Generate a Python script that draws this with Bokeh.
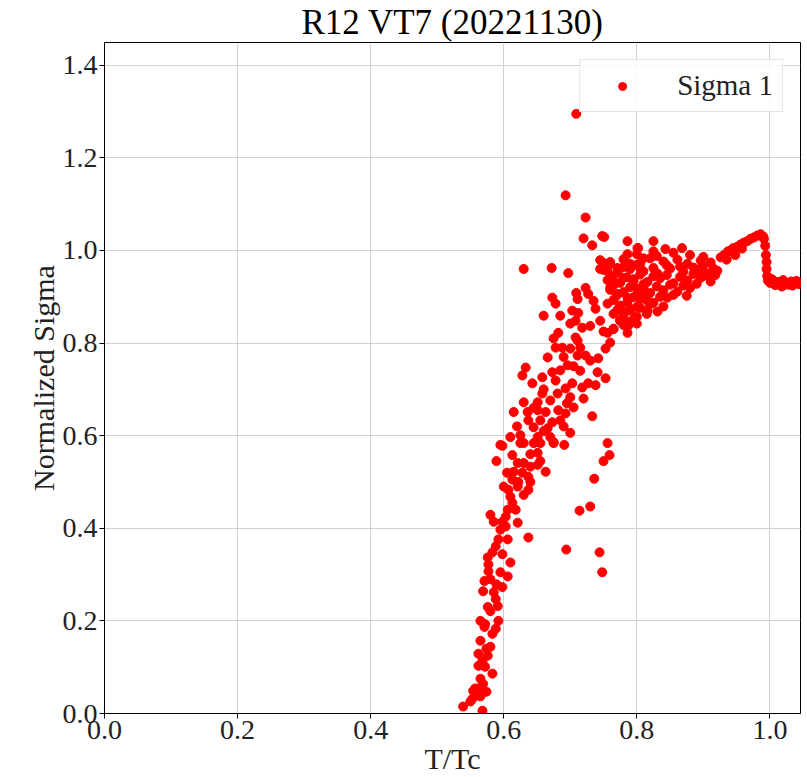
from bokeh.plotting import figure
from bokeh.models import (ColumnDataSource, Legend, LegendItem, FixedTicker,
                          Range1d, PrintfTickFormatter)
from bokeh.embed import file_html
from bokeh.resources import INLINE

# ---------------- data ----------------
tail_t = [0.539, 0.550, 0.554, 0.560, 0.565, 0.568, 0.569, 0.565, 0.583, 0.572,
          0.562, 0.568, 0.576, 0.565, 0.583, 0.588, 0.565, 0.592, 0.580, 0.591,
          0.569, 0.585, 0.580, 0.577, 0.595, 0.606, 0.610, 0.576, 0.583, 0.598,
          0.588, 0.592, 0.606, 0.637, 0.603, 0.580, 0.585, 0.598, 0.621, 0.603,
          0.606, 0.618, 0.613, 0.610, 0.630, 0.607, 0.637, 0.621, 0.613, 0.622,
          0.640, 0.615, 0.628, 0.637, 0.663, 0.621, 0.630, 0.640, 0.651, 0.589,
          0.613, 0.598, 0.625, 0.645, 0.651, 0.675, 0.691,
          0.557, 0.574, 0.572, 0.588, 0.577, 0.595, 0.553, 0.562, 0.574, 0.562,
          0.580, 0.571, 0.576, 0.589, 0.571, 0.598]
tail_s = [0.015, 0.026, 0.049, 0.039, 0.037, 0.006, 0.064, 0.075, 0.086, 0.101,
          0.103, 0.114, 0.125, 0.157, 0.172, 0.183, 0.200, 0.200, 0.221, 0.232,
          0.264, 0.262, 0.290, 0.307, 0.305, 0.296, 0.326, 0.337, 0.348, 0.344,
          0.361, 0.376, 0.376, 0.380, 0.404, 0.429, 0.414, 0.414, 0.412, 0.425,
          0.440, 0.440, 0.455, 0.468, 0.472, 0.483, 0.483, 0.490, 0.505, 0.500,
          0.500, 0.522, 0.520, 0.511, 0.522, 0.541, 0.541, 0.533, 0.537, 0.545,
          0.558, 0.578, 0.584, 0.584, 0.563, 0.584, 0.580,
          0.054, 0.140, 0.193, 0.247, 0.322, 0.397, 0.032, 0.054, 0.047, 0.129,
          0.144, 0.187, 0.230, 0.279, 0.286, 0.273]

mid_t = [0.709, 0.723, 0.727, 0.673, 0.678, 0.711, 0.735, 0.738, 0.660, 0.685,
         0.703, 0.712, 0.708, 0.700, 0.718, 0.730, 0.745, 0.756, 0.765, 0.682,
         0.675, 0.708, 0.711, 0.678, 0.688, 0.700, 0.715, 0.753, 0.760, 0.666,
         0.711, 0.723, 0.730, 0.742, 0.633, 0.673, 0.685, 0.696, 0.741, 0.753,
         0.628, 0.643, 0.658, 0.678, 0.703, 0.718, 0.727, 0.738, 0.693, 0.658,
         0.681, 0.700, 0.651, 0.670, 0.705, 0.630, 0.615, 0.636, 0.651, 0.663,
         0.682, 0.693, 0.637, 0.655, 0.673, 0.685, 0.645, 0.666, 0.700, 0.610,
         0.625, 0.651, 0.670, 0.595, 0.630, 0.655, 0.675,
         0.640, 0.655, 0.660, 0.690, 0.695, 0.715, 0.720, 0.705, 0.690, 0.660,
         0.645, 0.620, 0.605, 0.600]
mid_s = [0.908, 0.919, 0.906, 0.898, 0.885, 0.895, 0.891, 0.874, 0.859, 0.859,
         0.870, 0.865, 0.848, 0.842, 0.833, 0.837, 0.848, 0.822, 0.831, 0.822,
         0.810, 0.812, 0.805, 0.790, 0.790, 0.788, 0.790, 0.788, 0.801, 0.769,
         0.773, 0.773, 0.762, 0.767, 0.747, 0.737, 0.741, 0.752, 0.737, 0.724,
         0.730, 0.713, 0.726, 0.719, 0.713, 0.704, 0.713, 0.709, 0.702, 0.691,
         0.691, 0.683, 0.672, 0.676, 0.661, 0.672, 0.651, 0.651, 0.655, 0.651,
         0.655, 0.648, 0.633, 0.633, 0.629, 0.633, 0.618, 0.616, 0.606, 0.597,
         0.601, 0.597, 0.597, 0.580, 0.584, 0.584, 0.586,
         0.560, 0.545, 0.610, 0.620, 0.670, 0.740, 0.680, 0.750, 0.770, 0.700,
         0.660, 0.620, 0.520, 0.490]

upper_t = [0.672, 0.697, 0.630, 0.720, 0.733, 0.748, 0.751, 0.786, 0.750, 0.760,
           0.745, 0.756, 0.771, 0.786, 0.801, 0.810, 0.790, 0.805, 0.765, 0.780,
           0.795, 0.810, 0.760, 0.771, 0.786, 0.801, 0.816, 0.756, 0.775, 0.790,
           0.805, 0.765, 0.780, 0.795, 0.787, 0.775, 0.816]
upper_s = [0.962, 0.951, 0.960, 1.026, 1.011, 1.031, 1.029, 1.020, 0.973, 0.971,
           0.960, 0.956, 0.962, 0.992, 1.005, 0.983, 0.971, 0.962, 0.934, 0.941,
           0.934, 0.919, 0.919, 0.906, 0.898, 0.906, 0.891, 0.885, 0.876, 0.870,
           0.876, 0.863, 0.855, 0.848, 0.837, 0.848, 0.870]

band_t = [0.745, 0.760, 0.780, 0.805, 0.820, 0.840, 0.861, 0.876, 0.896, 0.911,
          0.750, 0.771, 0.790, 0.810, 0.831, 0.850, 0.870, 0.891, 0.906, 0.921,
          0.756, 0.775, 0.795, 0.816, 0.835, 0.855, 0.876, 0.896, 0.911,
          0.760, 0.780, 0.801, 0.820, 0.840, 0.861, 0.880,
          0.765, 0.786, 0.805, 0.825, 0.846,
          0.771, 0.780, 0.790, 0.831,
          0.775, 0.786, 0.795,
          0.750, 0.765, 0.786,
          0.800, 0.830, 0.855, 0.880, 0.900,
          0.755, 0.780, 0.800, 0.825, 0.845, 0.865, 0.885, 0.900, 0.915,
          0.760, 0.785, 0.805, 0.825, 0.845, 0.865, 0.885, 0.900, 0.918,
          0.765, 0.790, 0.810, 0.830, 0.850, 0.870, 0.890,
          0.770, 0.795, 0.815, 0.835, 0.855, 0.875,
          0.775, 0.800, 0.820, 0.840,
          0.780, 0.800, 0.815,
          0.780, 0.800]
band_s = [0.979, 0.975, 0.981, 0.972, 0.983, 0.976, 0.980, 0.971, 0.978, 0.974,
          0.958, 0.952, 0.960, 0.955, 0.950, 0.961, 0.954, 0.958, 0.949, 0.956,
          0.936, 0.930, 0.938, 0.932, 0.940, 0.929, 0.935, 0.941, 0.933,
          0.915, 0.910, 0.917, 0.908, 0.914, 0.911, 0.919,
          0.893, 0.888, 0.895, 0.887, 0.898,
          0.872, 0.866, 0.874, 0.868,
          0.849, 0.845, 0.851,
          0.825, 0.830, 0.822,
          0.992, 0.988, 0.995, 0.990, 0.986,
          0.967, 0.964, 0.969, 0.962, 0.968, 0.965, 0.963, 0.966, 0.961,
          0.946, 0.942, 0.948, 0.944, 0.947, 0.943, 0.949, 0.945, 0.947,
          0.925, 0.921, 0.927, 0.922, 0.926, 0.924, 0.928,
          0.903, 0.899, 0.905, 0.900, 0.904, 0.902,
          0.881, 0.878, 0.884, 0.879,
          0.861, 0.857, 0.863,
          0.839, 0.842]

peak_t = [0.926, 0.931, 0.937, 0.941, 0.945, 0.951, 0.956, 0.961, 0.966, 0.971,
          0.976, 0.981, 0.986, 0.990, 0.935, 0.948, 0.958,
          0.991, 0.993, 0.994, 0.995, 0.995, 0.996, 0.997]
peak_s = [0.985, 0.990, 0.998, 1.000, 1.005, 1.008, 1.013, 1.017, 1.020, 1.025,
          1.028, 1.032, 1.035, 1.030, 0.980, 0.990, 1.004,
          1.025, 1.010, 0.990, 0.975, 0.960, 0.945, 0.935]

plat_t = [1.000, 1.003, 1.005, 1.008, 1.012, 1.016, 1.018, 1.020, 1.024, 1.028,
          1.032, 1.034, 1.036, 1.040, 1.044, 1.047]
plat_s = [0.930, 0.938, 0.935, 0.925, 0.932, 0.928, 0.922, 0.936, 0.930, 0.926,
          0.933, 0.924, 0.929, 0.934, 0.927, 0.930]

out_t = [0.709, 0.693, 0.723, 0.843, 0.825, 0.868, 0.802, 0.825, 0.756, 0.759,
         0.750, 0.736, 0.730, 0.714, 0.694, 0.744, 0.748, 0.733]
out_s = [1.295, 1.119, 1.071, 1.003, 1.020, 1.005, 1.005, 0.998, 0.584, 0.558,
         0.545, 0.507, 0.447, 0.438, 0.354, 0.348, 0.305, 0.642]

x_ticks = [0.0, 0.2, 0.4, 0.6, 0.8, 1.0]
y_ticks = [0.0, 0.2, 0.4, 0.6, 0.8, 1.0, 1.2, 1.4]

T_ALL = tail_t + mid_t + upper_t + band_t + peak_t + plat_t + out_t
S_ALL = tail_s + mid_s + upper_s + band_s + peak_s + plat_s + out_s
src = ColumnDataSource(data=dict(t=T_ALL, s=S_ALL))

FONT = "Liberation Serif"

p = figure(width=807, height=777,
           x_range=Range1d(0, 1.046), y_range=Range1d(0, 1.449),
           output_backend="svg", toolbar_location=None,
           title="R12 VT7 (20221130)",
           min_border_left=104, min_border_right=7,
           min_border_top=40, min_border_bottom=62,
           background_fill_color="white", border_fill_color="white")

p.title.text_font = FONT
p.title.text_font_size = "35px"
p.title.text_font_style = "normal"
p.title.text_color = "black"
p.title.align = "center"
p.title.standoff = 1

r = p.scatter(x="t", y="s", source=src, size=9, fill_color="red",
              line_color="red")

p.xaxis.ticker = FixedTicker(ticks=x_ticks)
p.yaxis.ticker = FixedTicker(ticks=y_ticks)
p.xaxis.formatter = PrintfTickFormatter(format="%.1f")
p.yaxis.formatter = PrintfTickFormatter(format="%.1f")
p.xaxis.axis_label = "T/Tc"
p.yaxis.axis_label = "Normalized Sigma"
for ax in (p.xaxis, p.yaxis):
    ax.axis_label_text_font = FONT
    ax.axis_label_text_font_size = "30px"
    ax.axis_label_text_font_style = "normal"
    ax.axis_label_text_color = "#222222"
    ax.major_label_text_font = FONT
    ax.major_label_text_font_size = "28px"
    ax.major_label_text_color = "#222222"
    ax.major_tick_out = 5
    ax.major_tick_in = 0
    ax.minor_tick_line_color = None
    ax.axis_line_color = "black"
    ax.major_tick_line_color = "black"
    ax.major_label_standoff = 2
    ax.axis_label_standoff = 0

p.outline_line_color = "black"
p.outline_line_width = 1
p.grid.grid_line_color = "#d0d0d0"
p.grid.grid_line_width = 1

legend = Legend(items=[LegendItem(label="Sigma 1", renderers=[r])],
                location="top_right")
legend.margin = 17
legend.padding = 9
legend.glyph_width = 66
legend.label_standoff = 22
legend.label_text_font = FONT
legend.label_text_font_size = "29px"
legend.label_text_color = "#222222"
legend.border_line_color = "#cccccc"
legend.background_fill_alpha = 0.8
p.add_layout(legend)

open("out.html", "w").write(file_html(p, INLINE))
